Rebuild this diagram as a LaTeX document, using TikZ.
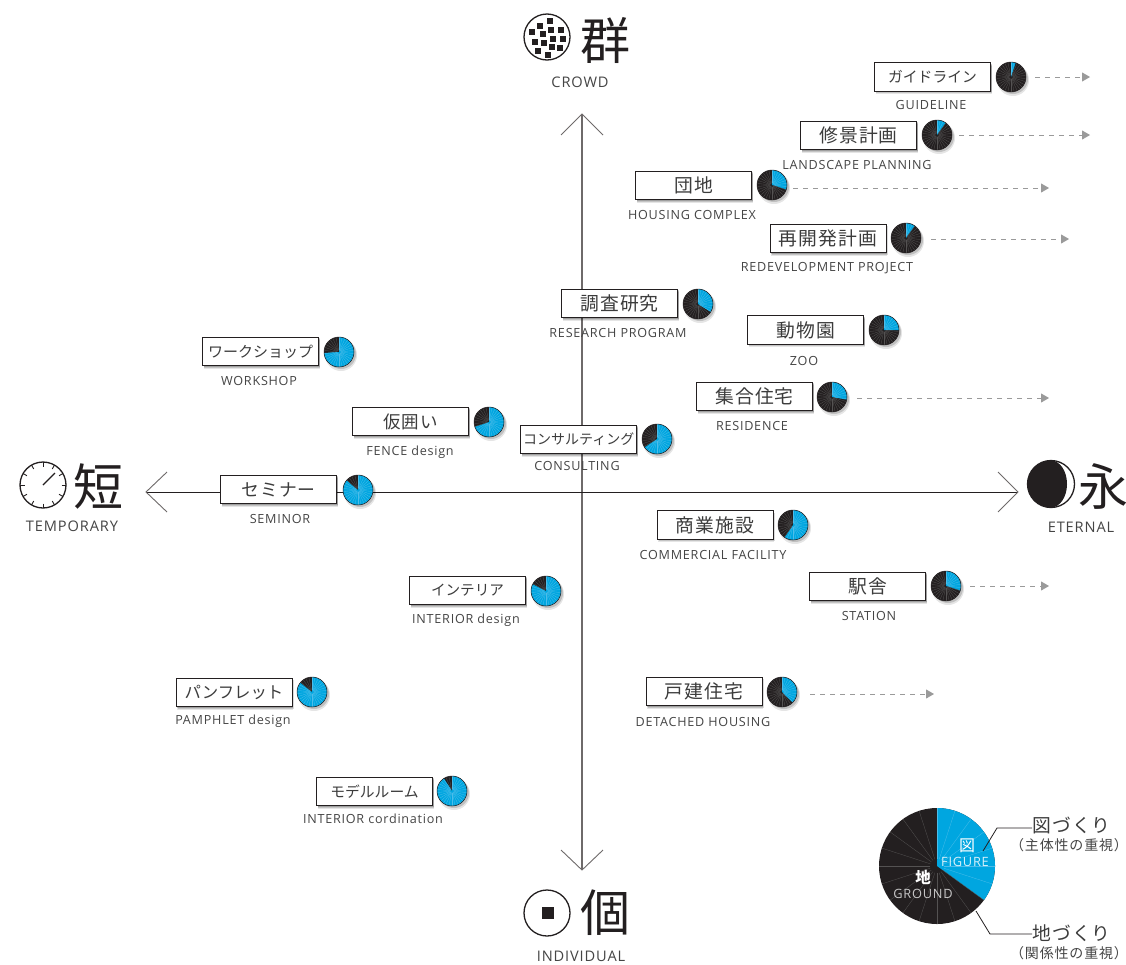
\documentclass[tikz,border=0pt]{standalone}
\usepackage{fontspec}
\usetikzlibrary{arrows.meta}
\setmainfont{Open Sans}
\newfontfamily\enf[LetterSpace=6]{Open Sans}
\newfontfamily\jpf[LetterSpace=6]{Noto Sans CJK JP}
\newfontfamily\jpk[LetterSpace=0]{Noto Sans CJK JP}
\newfontfamily\jpw[LetterSpace=0]{Noto Sans CJK JP}
\definecolor{ink}{HTML}{231F20}
\definecolor{txt}{HTML}{3C3C3C}
\definecolor{etxt}{HTML}{454545}
\definecolor{skyb}{HTML}{00A6E0}
\definecolor{skyl}{HTML}{4CBDEA}
\definecolor{spk}{HTML}{545252}
\definecolor{dashg}{HTML}{9A9A9A}
\definecolor{axv}{HTML}{6E6A6A}
\tikzset{
  boxnode/.style={rectangle,draw=ink,line width=1pt,fill=white,minimum width=116pt,minimum height=28.5pt,inner sep=0pt,text=txt,
    preaction={draw=none,fill=black,fill opacity=.10,transform canvas={shift={(1pt,-3pt)}}},
    preaction={draw=none,fill=black,fill opacity=.14,transform canvas={shift={(1.5pt,-2pt)}}},
    preaction={draw=none,fill=black,fill opacity=.18,transform canvas={shift={(1pt,-1pt)}}}},
  enlabelnode/.style={inner sep=0pt,text=etxt,text height=10pt,text depth=1pt,yshift=-0.7pt,font=\enf\fontsize{12.6}{12.6}\selectfont},
  axislabel/.style={inner sep=0pt,text=etxt,text height=11.5pt,text depth=1pt,yshift=-0.5pt,font=\enf\fontsize{14.6}{14.6}\selectfont},
  bigglyph/.style={inner sep=0pt,text=ink,font=\jpw\fontsize{50}{50}\selectfont},
  axisline/.style={draw=ink,line width=.9pt},
  vaxis/.style={draw=axv,line width=1.1pt},
  trend/.style={draw=dashg,line width=.8pt,dash pattern=on 5pt off 5pt,-{Triangle[length=8pt,width=9pt,fill=dashg]}},
  leader/.style={draw=ink,line width=.8pt},
  icon/.style={draw=ink,line width=1.3pt,fill=white},
}
\def\spokelist{0,12,...,348}
\newcommand\piecore[5]{% name,x,y,r,blue angle
  \fill[ink] (0pt,0pt) circle[radius=#4pt];
  \fill[skyb] (0pt,0pt) -- (90:#4pt) arc[start angle=90,delta angle=-#5,radius=#4pt] -- cycle;
  \foreach \a in \spokelist{%
    \ifdim\a pt<#5pt
      \draw[skyl,line width=.3pt] (90-\a:.12*#4pt) -- (90-\a:#4pt);
    \else
      \draw[spk,line width=.3pt] (90-\a:.12*#4pt) -- (90-\a:#4pt);
    \fi}%
}
\newcommand\mypie[5]{%
  \node[circle,minimum size=30pt,inner sep=0pt] (#1) at (#2,#3) {};
  \begin{scope}[shift={(#2,#3)}]
    \fill[black,opacity=.10] (2pt,-3pt) circle[radius=#4pt+1pt];
    \fill[black,opacity=.16] (2pt,-2pt) circle[radius=#4pt];
    \piecore{#1}{#2}{#3}{#4}{#5}
    \draw[ink,line width=.5pt] (0pt,0pt) circle[radius=#4pt];
  \end{scope}}
\newcommand\jpbox[5]{\node[boxnode,font=\jpf\fontsize{#4}{#4}\selectfont] (#1) at (#2,#3) {#5};}
\newcommand\kanabox[5]{\node[boxnode,font=\jpk\fontsize{#4}{#4}\selectfont] (#1) at (#2,#3) {#5};}
\newcommand\enlab[4]{\node[enlabelnode] (#1) at (#2,#3) {#4};}
\newcommand\trendline[4]{%
  \coordinate (#1s) at (#2,#4); \coordinate (#1e) at (#3,#4);
  \draw[trend] (#1s) -- (#1e);}
\begin{document}
\begin{tikzpicture}[x=1pt,y=-1pt]
\useasboundingbox (0,0) rectangle (1126,964);
\fill[white] (0,0) rectangle (1126,964);
% axes
\coordinate (axT) at (582,114); \coordinate (axB) at (582,870);
\coordinate (axL) at (146,492); \coordinate (axR) at (1018,492);
\coordinate (wT1) at (561,135); \coordinate (wT2) at (603,135);
\coordinate (wB1) at (561,850); \coordinate (wB2) at (603,850);
\coordinate (wL1) at (167,472); \coordinate (wL2) at (167,512);
\coordinate (wR1) at (998,472); \coordinate (wR2) at (998,512);
\draw[vaxis] (axT) -- (axB);
\draw[axisline] (axL) -- (axR);
\draw[axisline,draw=axv] (wT1) -- (axT) -- (wT2);
\draw[axisline,draw=axv] (wB1) -- (axB) -- (wB2);
\draw[axisline,draw=axv] (wL1) -- (axL) -- (wL2);
\draw[axisline,draw=axv] (wR1) -- (axR) -- (wR2);
% crowd
\node[circle,icon,minimum size=46pt,inner sep=0pt] (crowd) at (547,37) {};
\foreach \px/\py in {150/63,120/78,96/95,153/90,183/90,129/102,159/117,189/117,105/126,132/129,156/141,180/144,114/153,144/165}{
  \fill[ink] ({500+\px/3-3},{\py/3-3}) rectangle ++(6,6);}
\node[bigglyph] (gun) at (605,40) {群};
\node[axislabel] (crowdT) at (580,82) {CROWD};
% temporary
\node[circle,icon,minimum size=46pt,inner sep=0pt] (clock) at (43,485) {};
\begin{scope}[shift={(43,485)}]
\foreach \a in {0,30,...,330}{\draw[ink,line width=.9pt] (\a:18.5pt) -- (\a:23pt);}
\end{scope}
\coordinate (handA) at (43,485); \coordinate (handB) at (55,473);
\draw[ink,line width=1.3pt] (handA) -- (handB);
\node[bigglyph] (tan) at (98,486) {短};
\node[axislabel] (tempT) at (72,526) {TEMPORARY};
% eternal
\node[circle,icon,minimum size=47pt,inner sep=0pt] (moon) at (1051,484) {};
\fill[ink] (1051,460.5) arc[start angle=90,end angle=270,radius=23.5pt] arc[start angle=-90,end angle=90,x radius=16pt,y radius=23.5pt] -- cycle;
\node[bigglyph] (ei) at (1103,486) {永};
\node[axislabel] (etT) at (1081,527) {ETERNAL};
% individual
\node[circle,icon,minimum size=46pt,inner sep=0pt] (indiv) at (547,913) {};
\node[fill=ink,minimum size=12pt,inner sep=0pt] (indivC) at (548,913) {};
\node[bigglyph] (ko) at (605,913) {個};
\node[axislabel] (indT) at (581,956) {INDIVIDUAL};
% items
\kanabox{a1}{932.5}{77}{14.8}{ガイドライン} \mypie{p1}{1011}{77}{15}{18} \enlab{e1}{931}{104}{GUIDELINE}
\jpbox{a2}{858.5}{135.5}{18.8}{修景計画} \mypie{p2}{937}{135}{15}{36} \enlab{e2}{857}{164}{LANDSCAPE PLANNING}
\jpbox{a3}{693.5}{185.5}{18.8}{団地} \mypie{p3}{772}{185}{15}{108} \enlab{e3}{692}{214}{HOUSING COMPLEX}
\jpbox{a4}{828}{238.5}{18.8}{再開発計画} \mypie{p4}{906}{238}{15}{36} \enlab{e4}{827}{266}{REDEVELOPMENT PROJECT}
\jpbox{a5}{619.5}{303.5}{18.8}{調査研究} \mypie{p5}{698}{304}{15}{122} \enlab{e5}{618}{332}{RESEARCH PROGRAM}
\jpbox{a6}{805.5}{330}{18.8}{動物園} \mypie{p6}{884}{330}{15}{90} \enlab{e6}{804}{360}{ZOO}
\jpbox{a7}{754.5}{396.5}{18.8}{集合住宅} \mypie{p7}{832}{397}{15}{100} \enlab{e7}{752}{425}{RESIDENCE}
\kanabox{a8}{260.5}{351.5}{15}{ワークショップ} \mypie{p8}{339}{352}{15}{266} \enlab{e8}{259}{380}{WORKSHOP}
\jpbox{a9}{410.5}{421.5}{17.5}{仮囲い} \mypie{p9}{489}{422}{15}{252} \enlab{e9}{410}{450}{FENCE design}
\kanabox{a10}{578.7}{439.5}{14}{コンサルティング} \mypie{p10}{657}{439}{15}{236} \enlab{e10}{577}{465}{CONSULTING}
\jpbox{a11}{278.5}{489.5}{17.8}{セミナー} \mypie{p11}{358}{490}{15}{310} \enlab{e11}{280}{518}{SEMINOR}
\jpbox{a12}{715}{525}{18.8}{商業施設} \mypie{p12}{793}{525}{15}{214} \enlab{e12}{713}{554}{COMMERCIAL FACILITY}
\jpbox{a13}{867.5}{586.5}{18.8}{駅舎} \mypie{p13}{946}{586}{15}{108} \enlab{e13}{869}{615}{STATION}
\kanabox{a14}{467.5}{590.5}{14.6}{インテリア} \mypie{p14}{546}{591}{15}{297} \enlab{e14}{466}{618}{INTERIOR design}
\jpbox{a15}{704}{691.5}{18.8}{戸建住宅} \mypie{p15}{782}{692}{15}{135} \enlab{e15}{703}{721}{DETACHED HOUSING}
\kanabox{a16}{234}{692.5}{16.4}{パンフレット} \mypie{p16}{312}{692}{15}{308} \enlab{e16}{233}{719}{PAMPHLET design}
\kanabox{a17}{374.5}{791.5}{14.8}{モデルルーム} \mypie{p17}{452}{791}{15}{327} \enlab{e17}{373}{818}{INTERIOR cordination}
% trends
\trendline{t1}{1035}{1090}{77}
\trendline{t2}{959}{1090}{135}
\trendline{t3}{793}{1049}{188}
\trendline{t4}{931}{1069}{239}
\trendline{t7}{857}{1049}{398}
\trendline{t13}{970}{1049}{586}
\trendline{t15}{810}{934}{694}
% legend
\def\spokelist{0,18,...,342}
\node[circle,minimum size=116pt,inner sep=0pt] (lg) at (937,866) {};
\begin{scope}[shift={(937,866)}]
  \piecore{lg}{937}{866}{58}{126}
\end{scope}
\node[inner sep=0pt,text=white,font=\jpw\fontsize{16}{16}\selectfont] (lgA) at (967,846) {図};
\node[inner sep=0pt,text=white,opacity=.85,text height=10pt,text depth=1pt,font=\enf\fontsize{12.8}{12.8}\selectfont] (lgB) at (965,862) {FIGURE};
\node[inner sep=0pt,text=white,font=\jpw\bfseries\fontsize{15.5}{15.5}\selectfont] (lgC) at (923,877) {地};
\node[inner sep=0pt,text=white,opacity=.75,text height=10pt,text depth=1pt,font=\enf\fontsize{12.8}{12.8}\selectfont] (lgD) at (923,894) {GROUND};
\node[inner sep=0pt,text=txt,font=\jpf\fontsize{18.8}{18.8}\selectfont,anchor=west] (lgE) at (1032,825) {図づくり};
\node[inner sep=0pt,text=etxt,font=\jpf\fontsize{14}{14}\selectfont] (lgF) at (1069,845) {（主体性の重視）};
\node[inner sep=0pt,text=txt,font=\jpf\fontsize{18.8}{18.8}\selectfont,anchor=west] (lgG) at (1032,933) {地づくり};
\node[inner sep=0pt,text=etxt,font=\jpf\fontsize{14}{14}\selectfont] (lgH) at (1069,953) {（関係性の重視）};
\coordinate (l1a) at (983,851); \coordinate (l1b) at (997,828);
\coordinate (l2a) at (976,911); \coordinate (l2b) at (990,934);
\draw[leader] (l1a) -- (l1b) -- (lgE.west |- l1b);
\draw[leader] (l2a) -- (l2b) -- (lgG.west |- l2b);
\end{tikzpicture}
\end{document}
